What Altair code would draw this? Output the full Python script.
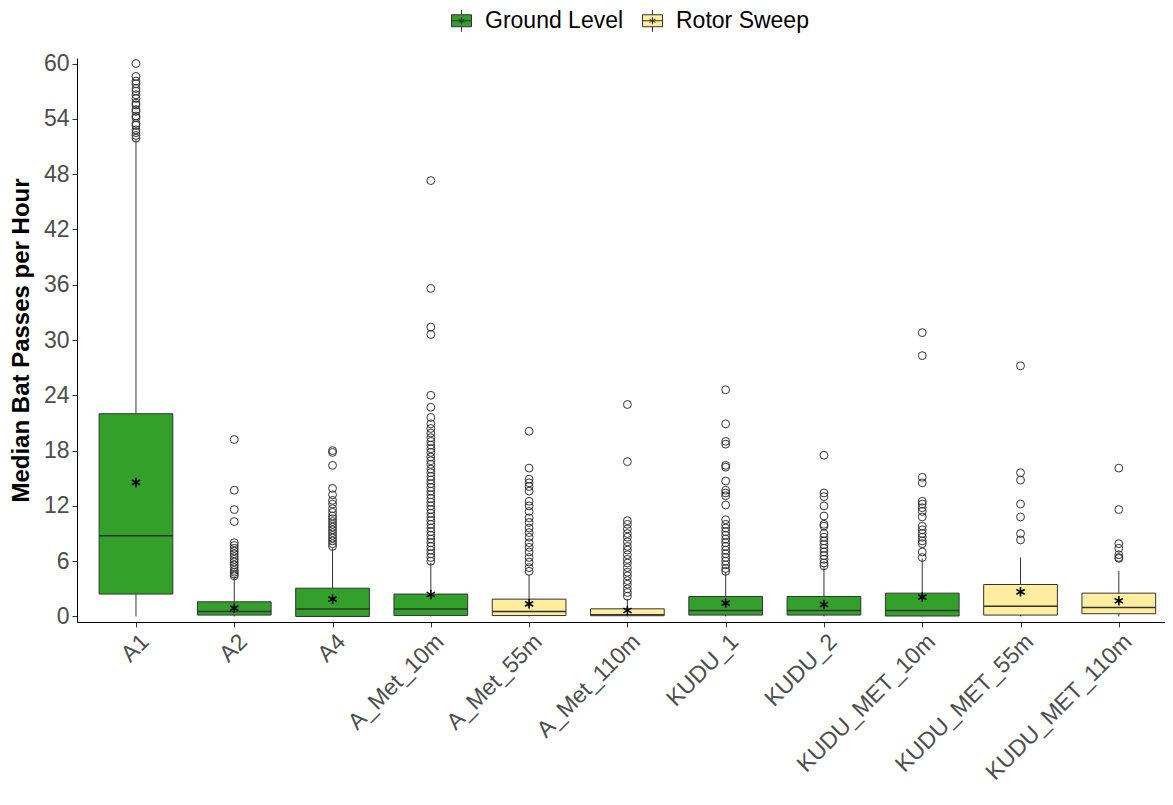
import altair as alt
import pandas as pd

# ---------------- data ----------------
categories = ["A1", "A2", "A4", "A_Met_10m", "A_Met_55m", "A_Met_110m",
              "KUDU_1", "KUDU_2", "KUDU_MET_10m", "KUDU_MET_55m", "KUDU_MET_110m"]
groups = ["Ground Level", "Ground Level", "Ground Level", "Ground Level",
          "Rotor Sweep", "Rotor Sweep", "Ground Level", "Ground Level",
          "Ground Level", "Rotor Sweep", "Rotor Sweep"]
q1 = [2.43, 0.15, 0.0, 0.10, 0.10, 0.08, 0.15, 0.15, 0.05, 0.15, 0.30]
median = [8.77, 0.54, 0.80, 0.80, 0.54, 0.18, 0.65, 0.65, 0.65, 1.12, 0.98]
q3 = [22.0, 1.59, 3.07, 2.43, 1.88, 0.83, 2.17, 2.17, 2.53, 3.47, 2.53]
whisker_low = [0.0, 0.0, 0.0, 0.0, 0.0, 0.0, 0.0, 0.0, 0.0, 0.0, 0.0]
whisker_high = [51.7, 4.3, 7.4, 5.8, 4.5, 1.9, 4.8, 5.4, 6.3, 6.4, 4.95]
mean = [14.55, 0.90, 1.88, 2.38, 1.37, 0.65, 1.45, 1.30, 2.10, 2.67, 1.70]

out_A1 = [60.0, 58.6, 58.1, 57.8, 57.3, 57.0, 56.6, 56.2, 55.7, 55.5, 55.0,
          54.8, 54.3, 54.1, 53.5, 53.3, 52.8, 52.5, 52.2, 51.9]
out_A2 = [19.2, 13.7, 11.6, 10.3, 8.0, 7.7, 7.4, 7.1, 6.8, 6.5, 6.2, 5.9,
          5.6, 5.3, 5.0, 4.8, 4.6, 4.4]
out_A4 = [18.0, 17.8, 16.4, 13.9, 13.2, 12.6, 12.2, 11.7, 11.3, 10.9, 10.6,
          10.3, 10.0, 9.7, 9.4, 9.1, 8.8, 8.5, 8.2, 7.9, 7.6]
out_A_Met_10m = [47.3, 35.6, 31.4, 30.6, 24.0, 22.7, 21.6, 20.9, 20.4, 19.9,
                 19.4, 19.0, 18.6, 18.2, 17.8, 17.3, 16.9, 16.5, 16.0, 15.6,
                 15.2, 14.8, 14.4, 14.0, 13.6, 13.2, 12.8, 12.4, 12.0, 11.6,
                 11.2, 10.8, 10.4, 10.0, 9.6, 9.2, 8.8, 8.4, 8.0, 7.6, 7.2,
                 6.8, 6.4, 6.0]
out_A_Met_55m = [20.1, 16.1, 14.9, 14.5, 14.1, 13.6, 12.5, 12.0, 11.4, 10.7,
                 10.2, 9.6, 9.1, 8.6, 8.0, 7.5, 7.0, 6.4, 5.9, 5.3, 4.9]
out_A_Met_110m = [23.0, 16.8, 10.4, 10.0, 9.5, 9.0, 8.6, 8.1, 7.6, 7.2, 6.7,
                  6.2, 5.8, 5.3, 4.8, 4.4, 3.9, 3.5, 3.0, 2.6, 2.2]
out_KUDU_1 = [24.6, 20.9, 19.0, 18.7, 16.4, 16.2, 14.7, 13.7, 13.4, 13.1,
              12.1, 10.5, 10.0, 9.6, 9.2, 8.8, 8.4, 8.0, 7.6, 7.2, 6.8, 6.4,
              6.0, 5.6, 5.2, 4.9]
out_KUDU_2 = [17.5, 13.4, 13.0, 12.0, 10.9, 10.0, 9.8, 9.0, 8.6, 8.2, 7.8,
              7.4, 7.0, 6.6, 6.2, 5.8, 5.5]
out_KUDU_MET_10m = [30.8, 28.3, 15.1, 14.5, 12.5, 12.2, 11.8, 11.4, 10.8,
                    9.8, 9.4, 9.0, 8.6, 8.2, 7.9, 7.0, 6.4]
out_KUDU_MET_55m = [27.2, 15.6, 14.8, 12.2, 10.8, 9.0, 8.3]
out_KUDU_MET_110m = [16.1, 11.6, 7.9, 7.4, 6.7, 6.4, 6.3]

outliers = [out_A1, out_A2, out_A4, out_A_Met_10m, out_A_Met_55m,
            out_A_Met_110m, out_KUDU_1, out_KUDU_2, out_KUDU_MET_10m,
            out_KUDU_MET_55m, out_KUDU_MET_110m]

y_ticks = [0, 6, 12, 18, 24, 30, 36, 42, 48, 54, 60]

# ---------------- tables ----------------
stats = pd.DataFrame({
    "cat": categories,
    "pos": list(range(1, len(categories) + 1)),
    "group": groups,
    "q1": q1, "median": median, "q3": q3,
    "lo": whisker_low, "hi": whisker_high, "mean": mean,
})
out_rows = []
for i, vals in enumerate(outliers):
    for v in vals:
        out_rows.append({"pos": i + 1, "value": v})
out_df = pd.DataFrame(out_rows)

FONT = "Liberation Sans"
YTITLE = "Median Bat Passes per Hour"

label_expr = "[" + ",".join("'%s'" % c for c in categories) + "][datum.value - 1]"

xscale = alt.Scale(domain=[0.4, 11.47], nice=False, zero=False)
yscale = alt.Scale(domain=[-0.6, 60.6], nice=False, zero=False)
xaxis = alt.Axis(values=list(range(1, len(categories) + 1)), labelExpr=label_expr,
                 labelAngle=-45, labelAlign="right", labelBaseline="top",
                 labelPadding=3, labelOffset=1, labelOverlap=False,
                 labelFlush=False, labelBound=False, labelLimit=0, title=None)
yaxis = alt.Axis(values=y_ticks, labelOverlap=False, labelFlush=False,
                 labelPadding=3, titlePadding=10, title=YTITLE)

base = alt.Chart(stats)

whiskers = base.mark_rule(color="#333333", strokeWidth=1).encode(
    x=alt.X("pos:Q", scale=xscale, axis=xaxis),
    y=alt.Y("lo:Q", scale=yscale, axis=yaxis, title=YTITLE),
    y2="hi:Q",
)

box_path = ("M-1,-0.6H1V0.6H-1Z M0,-0.6V-1.1 M0,0.6V1.1 M-1,0H1 "
            "M0,-0.35V0.35 M-0.3,-0.17L0.3,0.17 M-0.3,0.17L0.3,-0.17")

boxes = base.transform_calculate(
    x1="datum.pos - 0.375", x2="datum.pos + 0.375"
).mark_bar(stroke="#333333", strokeWidth=1, opacity=1).encode(
    x=alt.X("x1:Q", scale=xscale, axis=xaxis),
    x2="x2:Q",
    y=alt.Y("q1:Q", scale=yscale, axis=yaxis, title=YTITLE),
    y2="q3:Q",
    fill=alt.Fill("group:N",
                  scale=alt.Scale(domain=["Ground Level", "Rotor Sweep"],
                                  range=["#33A02C", "#FFEDA0"]),
                  legend=alt.Legend(orient="none", direction="horizontal",
                                    legendX=373, legendY=-49, title=None,
                                    symbolType=box_path, symbolSize=400,
                                    symbolStrokeColor="#333333",
                                    symbolStrokeWidth=1,
                                    labelFont=FONT, labelFontSize=23,
                                    labelColor="#000000", labelOffset=12,
                                    columnPadding=16, padding=0)),
)

medians = base.transform_calculate(
    x1="datum.pos - 0.375", x2="datum.pos + 0.375"
).mark_rule(color="#333333", strokeWidth=1.5).encode(
    x=alt.X("x1:Q", scale=xscale, axis=xaxis),
    x2="x2:Q",
    y=alt.Y("median:Q", scale=yscale, axis=yaxis, title=YTITLE),
)

points = alt.Chart(out_df).mark_point(
    shape="circle", filled=False, size=62, strokeWidth=1,
    color="#333333", opacity=1
).encode(
    x=alt.X("pos:Q", scale=xscale, axis=xaxis),
    y=alt.Y("value:Q", scale=yscale, axis=yaxis, title=YTITLE),
)

star_path = "M0,-1L0,1M-0.87,-0.5L0.87,0.5M-0.87,0.5L0.87,-0.5"
means = base.mark_point(
    shape=star_path, filled=False, size=90, strokeWidth=1.6,
    color="#000000", opacity=1
).encode(
    x=alt.X("pos:Q", scale=xscale, axis=xaxis),
    y=alt.Y("mean:Q", scale=yscale, axis=yaxis, title=YTITLE),
)

chart = alt.layer(whiskers, boxes, medians, points, means).properties(
    width=1088, height=564,
    autosize=alt.AutoSizeParams(type="none"),
    padding={"left": 69, "top": 50, "right": 0, "bottom": 171},
).configure_view(stroke=None).configure_axis(
    grid=False,
    domainColor="#000000", domainWidth=1,
    tickColor="#333333", tickSize=5, tickWidth=1,
    labelFont=FONT, labelFontSize=23, labelColor="#4D4D4D",
    titleFont=FONT, titleFontSize=24, titleFontWeight="bold",
    titleColor="#000000",
)

chart.save("out.html", embed_options={"renderer": "svg", "actions": False})
